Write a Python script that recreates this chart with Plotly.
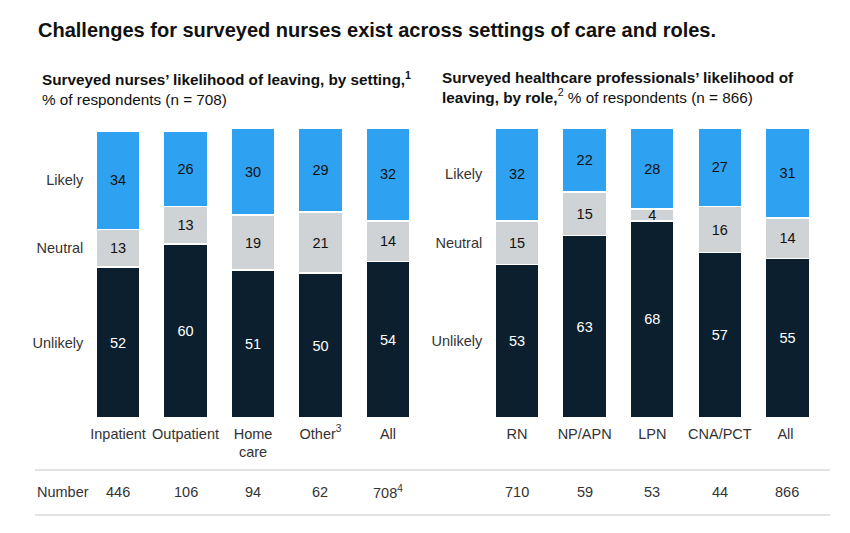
import plotly.graph_objects as go

# ---- data ----
settings = ["Inpatient", "Outpatient", "Home<br>care", "Other<sup>3</sup>", "All"]
set_likely = [34, 26, 30, 29, 32]
set_neutral = [13, 13, 19, 21, 14]
set_unlikely = [52, 60, 51, 50, 54]
set_number = ["446", "106", "94", "62", "708<sup>4</sup>"]

roles = ["RN", "NP/APN", "LPN", "CNA/PCT", "All "]
role_likely = [32, 22, 28, 27, 31]
role_neutral = [15, 15, 4, 16, 14]
role_unlikely = [53, 63, 68, 57, 55]
role_number = ["710", "59", "53", "44", "866"]

series_names = ["Unlikely", "Neutral", "Likely"]

# ---- style ----
W, H = 850, 533
C_UNL = "#0b1f2f"
C_NEU = "#cfd3d5"
C_LIK = "#2fa1f1"
TXT = "#333333"
FONT = "Liberation Sans"
FS = 14.5

def py(px):
    return 1 - px / H

def px_(x):
    return x / W

fig = go.Figure()

def add_group(cats, unl, neu, lik, xa, ya):
    for name, vals, col, tcol in [
        ("Unlikely", unl, C_UNL, "white"),
        ("Neutral", neu, C_NEU, "#111111"),
        ("Likely", lik, C_LIK, "#111111"),
    ]:
        fig.add_trace(go.Bar(
            x=cats, y=vals, name=name, xaxis=xa, yaxis=ya,
            marker=dict(color=col, line=dict(color="white", width=1.5)),
            text=[str(v) for v in vals], textposition="inside",
            insidetextanchor="middle", textangle=0,
            textfont=dict(color=tcol, size=FS, family=FONT),
            constraintext="none",
            showlegend=False, hoverinfo="skip",
        ))

add_group(settings, set_unlikely, set_neutral, set_likely, "x", "y")
add_group(roles, role_unlikely, role_neutral, role_likely, "x2", "y2")

def tickpos(unl, neu, lik):
    return [unl[0] / 2, unl[0] + neu[0] / 2, unl[0] + neu[0] + lik[0] / 2]

ydom = [py(418), py(128)]
common_x = dict(type="category", showgrid=False, zeroline=False, showline=False,
                ticks="", tickfont=dict(size=FS, color=TXT, family=FONT),
                ticklabelstandoff=5, range=[-0.5, 4.5])
common_y = dict(range=[0, 100], showgrid=False, zeroline=False, showline=False,
                ticks="", tickfont=dict(size=FS, color=TXT, family=FONT),
                domain=ydom, ticktext=series_names)

fig.update_layout(
    width=W, height=H,
    margin=dict(l=0, r=0, t=0, b=0),
    paper_bgcolor="white", plot_bgcolor="white",
    barmode="stack", bargap=0.35,
    font=dict(family=FONT, color=TXT),
    xaxis=dict(common_x, domain=[px_(84.3), px_(421.7)], anchor="y"),
    yaxis=dict(common_y, tickvals=tickpos(set_unlikely, set_neutral, set_likely), anchor="x"),
    xaxis2=dict(common_x, domain=[px_(483.2), px_(821.3)], anchor="y2"),
    yaxis2=dict(common_y, tickvals=tickpos(role_unlikely, role_neutral, role_likely), anchor="x2"),
)

ann = []
ann.append(dict(text="<b>Challenges for surveyed nurses exist across settings of care and roles.</b>",
                x=px_(36), y=py(30), xref="paper", yref="paper", xanchor="left", yanchor="middle",
                showarrow=False, font=dict(size=20, color="#111111", family=FONT)))
ann.append(dict(text="<b>Surveyed nurses’ likelihood of leaving, by setting,<sup>1</sup></b><br>% of respondents (n = 708)",
                x=px_(40), y=py(67), xref="paper", yref="paper", xanchor="left", yanchor="top",
                align="left", showarrow=False, font=dict(size=15.3, color="#111111", family=FONT)))
ann.append(dict(text="<b>Surveyed healthcare professionals’ likelihood of<br>leaving, by role,</b><sup>2</sup> % of respondents (n = 866)",
                x=px_(440), y=py(67), xref="paper", yref="paper", xanchor="left", yanchor="top",
                align="left", showarrow=False, font=dict(size=15.3, color="#111111", family=FONT)))
ann.append(dict(text="Number", x=px_(35), y=py(492), xref="paper", yref="paper",
                xanchor="left", yanchor="middle", showarrow=False,
                font=dict(size=FS, color=TXT, family=FONT)))
for c, n in zip(settings, set_number):
    ann.append(dict(text=n, x=c, y=py(492), xref="x", yref="paper", xanchor="center",
                    yanchor="middle", showarrow=False, font=dict(size=FS, color=TXT, family=FONT)))
for c, n in zip(roles, role_number):
    ann.append(dict(text=n, x=c, y=py(492), xref="x2", yref="paper", xanchor="center",
                    yanchor="middle", showarrow=False, font=dict(size=FS, color=TXT, family=FONT)))
fig.update_layout(annotations=ann)

for yline in (470, 515):
    fig.add_shape(type="line", xref="paper", yref="paper", x0=px_(35), x1=px_(830),
                  y0=py(yline), y1=py(yline), line=dict(color="#e3e3e3", width=2))

fig.write_html("out.html", config={"displayModeBar": False},
               post_script="document.body.style.margin='0';")
